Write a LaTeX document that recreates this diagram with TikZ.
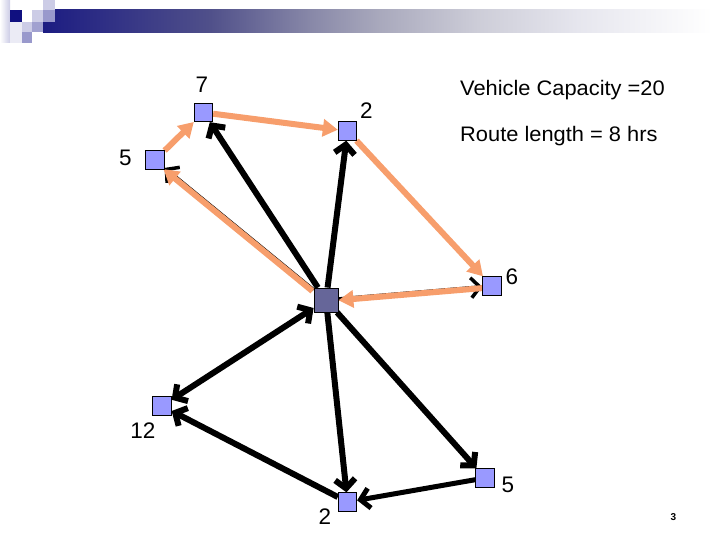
\documentclass[tikz,border=0pt]{standalone}
\usepackage{fontspec}
\setmainfont{Liberation Sans}
\newfontfamily\widefont[FakeStretch=1.04]{Liberation Sans}
\usetikzlibrary{arrows.meta}
\definecolor{routeorange}{RGB}{247,158,108}
\definecolor{custfill}{RGB}{153,153,255}
\definecolor{depotfill}{RGB}{102,102,153}
\definecolor{decnavy}{RGB}{16,16,128}
\definecolor{declight}{RGB}{204,204,230}
\definecolor{decmid}{RGB}{153,153,204}
\definecolor{barA}{RGB}{28,28,130}
\definecolor{barB}{RGB}{80,80,138}
\definecolor{barC}{RGB}{136,136,168}
\definecolor{barD}{RGB}{168,168,188}
\definecolor{barE}{RGB}{205,205,216}
\definecolor{barF}{RGB}{230,230,238}
\pgfdeclarehorizontalshading{titlebar}{100bp}{color(0bp)=(barA); color(25bp)=(barA); color(37.5bp)=(barB); color(45bp)=(barC); color(50bp)=(barD); color(57.5bp)=(barE); color(65bp)=(barF); color(75bp)=(white); color(100bp)=(white)}
\pgfdeclarelayer{background}
\pgfsetlayers{background,main}
\tikzset{
  cust/.style={draw=black, line width=0.8pt, fill=custfill, minimum size=18.5pt, inner sep=0pt},
  depot/.style={draw=black, line width=0.8pt, fill=depotfill, minimum size=24pt, inner sep=0pt},
  lbl/.style={inner sep=0pt, font=\fontsize{22.5}{22.5}\selectfont},
  info/.style={inner sep=0pt, anchor=base west, font=\widefont\fontsize{21}{21}\selectfont},
  blk/.style={draw=black, line width=6pt, -{Straight Barb[length=9pt,width=20pt]}},
  orng/.style={draw=routeorange, line width=6pt, -{Triangle[length=15pt,width=17pt]}},
}
\begin{document}
\begin{tikzpicture}[x=1pt,y=-1pt]
\useasboundingbox (0,0) rectangle (720,540);
% decoration
\shade[left color=white, right color=declight] (0,0) rectangle (10,43);
\fill[white!60!declight] (10,22) rectangle (22,43);
\shade[shading=titlebar] (43,10) rectangle (712,32.5);
\fill[decnavy] (10,10) rectangle (21.7,21.7);
\fill[declight] (31.7,10) rectangle (43.3,21.7);
\fill[declight] (43.3,0) rectangle (55,10);
\fill[decmid] (43.3,10) rectangle (55,21.7);
\fill[declight] (21.7,21.7) rectangle (31.7,32);
\fill[decmid!85!declight] (31.7,21.7) rectangle (43.3,32);
\fill[decmid] (21.7,32) rectangle (32,43.3);
% nodes
\node[cust] (c7) at (203.5,112.5) {};
\node[cust] (c2t) at (347.5,131) {};
\node[cust] (c5l) at (155,160) {};
\node[depot] (dep) at (326,300) {};
\node[cust] (c6) at (492,286) {};
\node[cust] (c12) at (162,406) {};
\node[cust] (c2b) at (347.5,502) {};
\node[cust] (c5b) at (485,478) {};
% labels
\node[lbl] (l7) at (202,85) {7};
\node[lbl] (l2t) at (366.5,111) {2};
\node[lbl] (l5l) at (125.5,158) {5};
\node[lbl] (l6) at (512,277) {6};
\node[lbl] (l12) at (143,431) {12};
\node[lbl] (l2b) at (325,517) {2};
\node[lbl] (l5b) at (508,485) {5};
\node[info] (cap) at (460,95.5) {Vehicle Capacity =20};
\node[info] (len) at (460,141.5) {Route length = 8 hrs};
\node[inner sep=0pt, font=\bfseries\fontsize{10}{10}\selectfont] (pg) at (673.5,517) {3};
% edges
\begin{pgfonlayer}{background}
\draw[blk] (dep) -- (c7);
\draw[blk] (dep) -- (c2t);
\draw[blk, {Straight Barb[length=9pt,width=20pt]}-{Straight Barb[length=9pt,width=20pt]}] (dep) -- (c12);
\draw[blk] (dep) -- (c5b);
\draw[blk] (dep) -- (c2b);
\draw[blk, line width=5pt] (c5b) -- (c2b);
\draw[blk] (c2b) -- (c12);
\draw[blk, line width=3.5pt] (dep) -- (c5l);
\draw[blk, line width=3.5pt] (dep) -- (c6);
\draw[orng, transform canvas={xshift=-1.2pt,yshift=-1.2pt}] (dep) -- (c5l);
\draw[orng] (c5l) -- (c7);
\draw[orng] (c7) -- (c2t);
\draw[orng] (c2t) -- (c6);
\draw[orng, transform canvas={yshift=-1.3pt}] (c6) -- (dep);
\end{pgfonlayer}
\end{tikzpicture}
\end{document}
